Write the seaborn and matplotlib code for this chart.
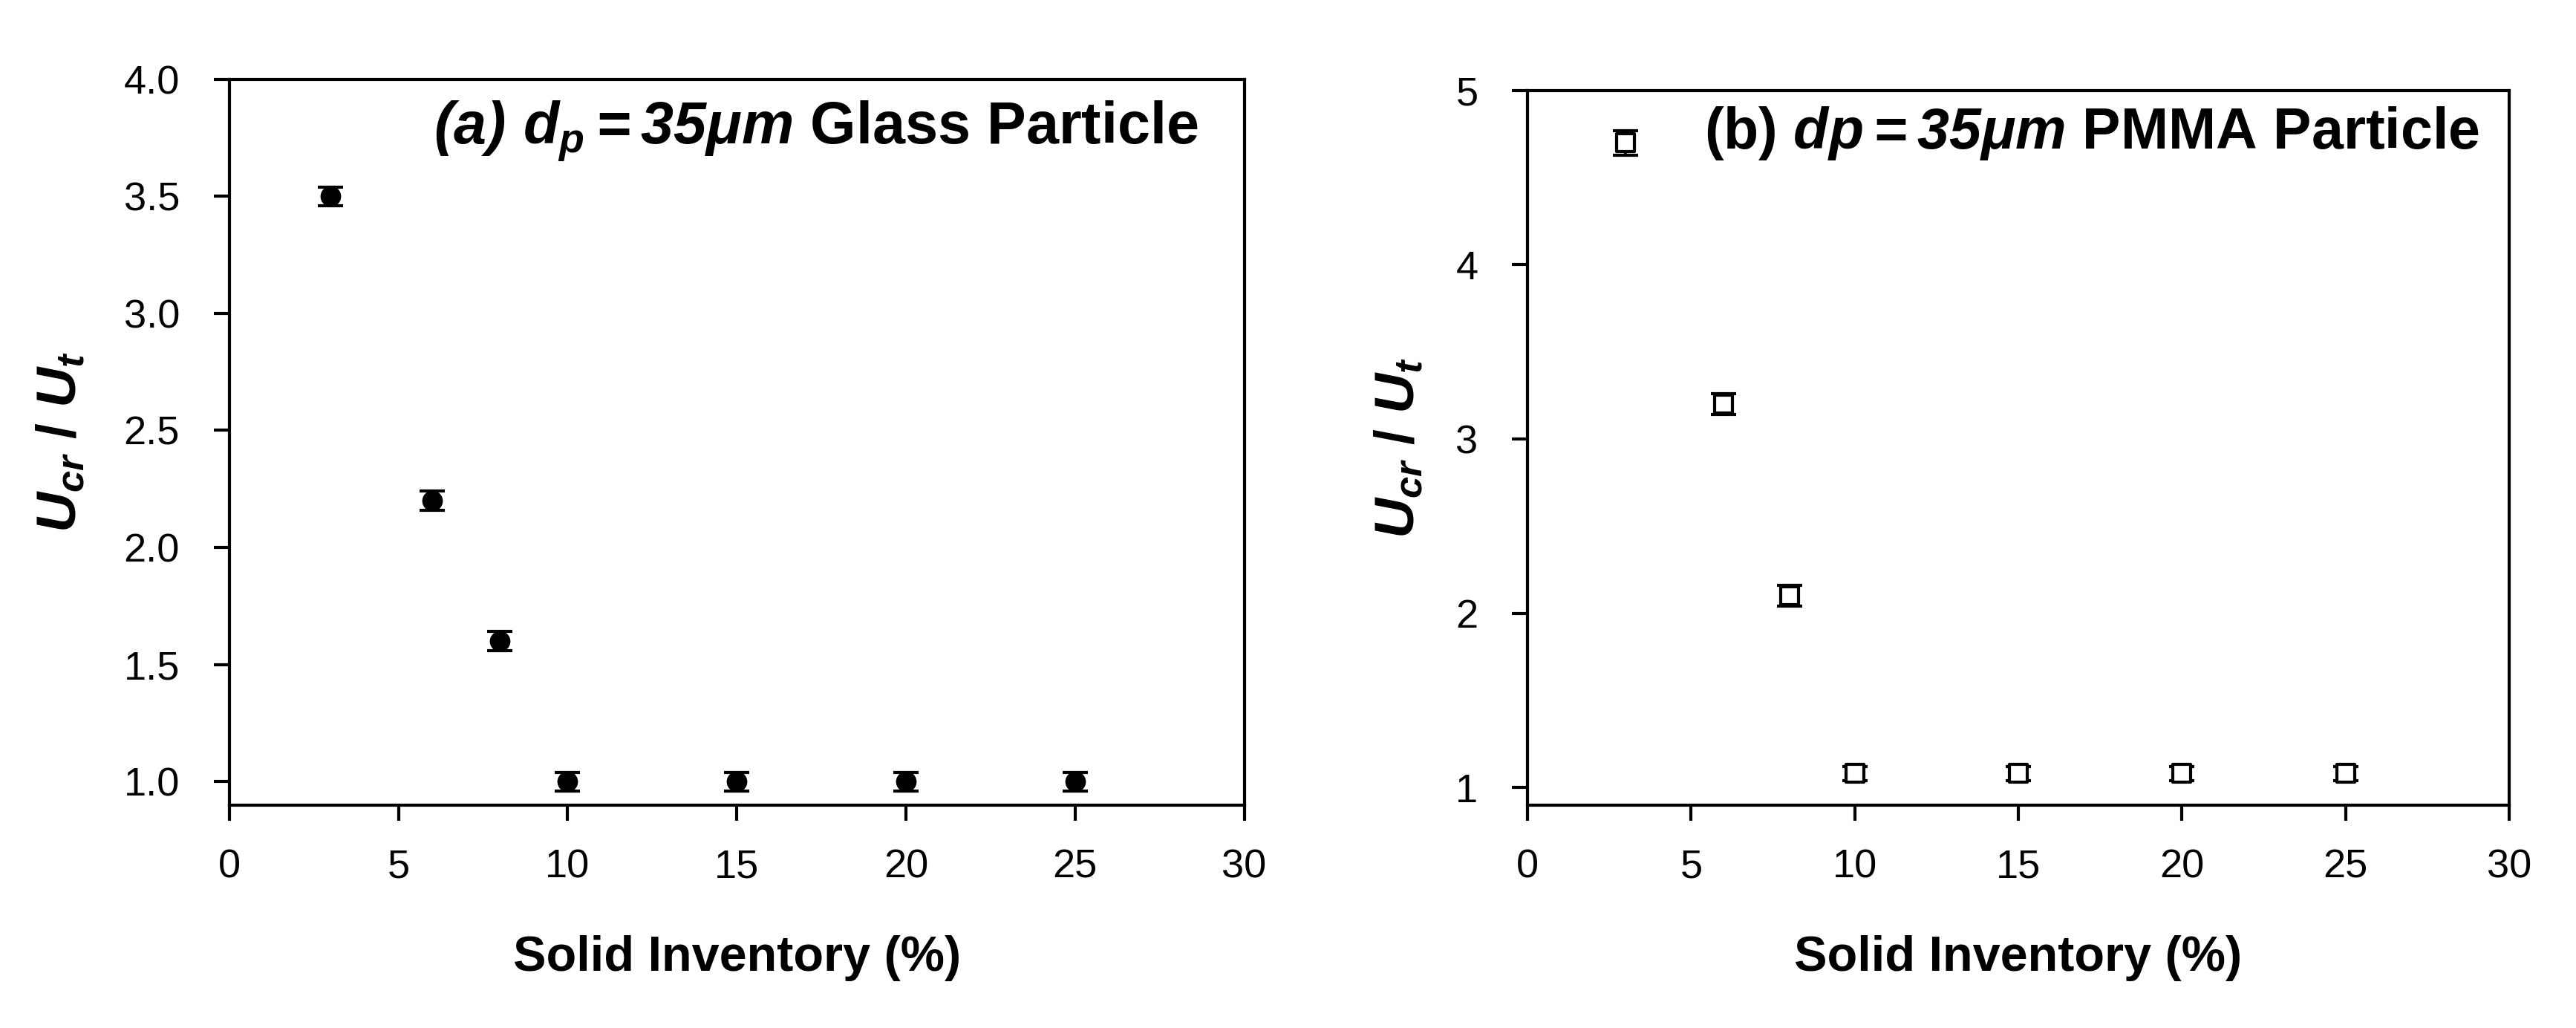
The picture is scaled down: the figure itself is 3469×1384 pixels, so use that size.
import numpy as np
import pandas as pd
import matplotlib
matplotlib.use("Agg")
import matplotlib.pyplot as plt
import seaborn as sns

# data
inventory = [3, 6, 8, 10, 15, 20, 25]
glass_ratio = [3.5, 2.2, 1.6, 1.0, 1.0, 1.0, 1.0]
glass_err = [0.04, 0.04, 0.04, 0.04, 0.04, 0.04, 0.04]
pmma_ratio = [4.7, 3.2, 2.1, 1.08, 1.08, 1.08, 1.08]
pmma_err = [0.07, 0.06, 0.06, 0.04, 0.04, 0.04, 0.04]

x_ticks = [0, 5, 10, 15, 20, 25, 30]
glass_yticks = [1.0, 1.5, 2.0, 2.5, 3.0, 3.5, 4.0]
pmma_yticks = [1, 2, 3, 4, 5]

sns.set_style("ticks")
fam = ["Liberation Sans Narrow", "Liberation Sans", "DejaVu Sans"]
plt.rcParams["font.family"] = fam
plt.rcParams["text.color"] = "black"
plt.rcParams["axes.labelcolor"] = "black"
plt.rcParams["xtick.color"] = "black"
plt.rcParams["ytick.color"] = "black"
plt.rcParams["mathtext.fontset"] = "custom"
plt.rcParams["mathtext.it"] = "Liberation Sans:italic:bold"
plt.rcParams["mathtext.rm"] = "Liberation Sans:italic:bold"
plt.rcParams["mathtext.bf"] = "Liberation Sans:italic:bold"

glass = pd.DataFrame({"inv": inventory, "ratio": glass_ratio, "err": glass_err})
pmma = pd.DataFrame({"inv": inventory, "ratio": pmma_ratio, "err": pmma_err})

fig = plt.figure(figsize=(3469 / 300, 1384 / 300), dpi=300)
ax1 = fig.add_axes([0.089, 0.217, 0.394, 0.706])
ax2 = fig.add_axes([0.593, 0.217, 0.381, 0.695])


def draw_panel(ax, df, marker, face, yticks, ylim, ylabels, ypad):
    ax.errorbar(df["inv"], df["ratio"], yerr=df["err"], fmt="none",
                ecolor="black", elinewidth=1.0, capsize=4, capthick=1.0, zorder=2)
    sns.scatterplot(data=df, x="inv", y="ratio", ax=ax, marker=marker,
                    color=face, edgecolor="black", linewidth=1.0, s=32, zorder=3)
    ax.set_xlim(0, 30)
    ax.set_ylim(*ylim)
    ax.set_xticks(x_ticks)
    ax.set_xticklabels([str(t) for t in x_ticks])
    ax.set_yticks(yticks)
    ax.set_yticklabels(ylabels)
    ax.tick_params(direction="out", length=5, width=1.0, labelsize=13)
    ax.tick_params(axis="y", pad=11)
    ax.tick_params(axis="x", pad=9)
    for sp in ax.spines.values():
        sp.set_visible(True)
        sp.set_linewidth(1.0)
        sp.set_color("black")
    ax.set_xlabel("Solid Inventory (%)", fontsize=16, fontweight="bold", labelpad=16)
    ax.set_ylabel(r"$U_{cr}$ / $U_t$", fontsize=18, fontweight="bold", labelpad=ypad)


draw_panel(ax1, glass, "o", "black", glass_yticks, (0.9, 4.0),
           [f"{t:.1f}" for t in glass_yticks], 12)
draw_panel(ax2, pmma, "s", "white", pmma_yticks, (0.9, 5.0),
           [str(t) for t in pmma_yticks], 10)

ax1.text(0.955, 0.928, r"$(a)\ d_p = 35\mu m$ Glass Particle", transform=ax1.transAxes,
         ha="right", va="center", fontsize=19, fontweight="bold")
ax2.text(0.97, 0.94, r"(b) $dp = 35\mu m$ PMMA Particle", transform=ax2.transAxes,
         ha="right", va="center", fontsize=18.5, fontweight="bold")

fig.savefig("out.png", dpi=300)
